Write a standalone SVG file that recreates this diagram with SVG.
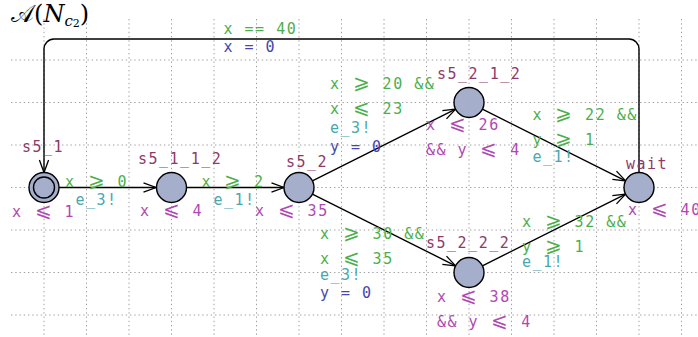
<svg xmlns="http://www.w3.org/2000/svg" width="698" height="337" viewBox="0 0 698 337">
<style>
.grid{fill:none;stroke:#a0a0a0;stroke-width:1;stroke-dasharray:1.4 2.85}
.edge{fill:none;stroke:#000;stroke-width:1.4}
.node{fill:#a5aecb;stroke:#000;stroke-width:1.4}
.t{font-family:"DejaVu Sans Mono","Liberation Mono",monospace;font-size:15px;letter-spacing:1.5px}
.r{font-size:20px;text-anchor:middle;letter-spacing:0}
.g{fill:#4caf4c}
.s{fill:#48a8b0}
.u{fill:#4646b0}
.i{fill:#b048b4}
.n{fill:#8e3a68}
</style>
<defs>
<marker id="arr" markerUnits="userSpaceOnUse" markerWidth="16" markerHeight="12" viewBox="-14 -6 16 12" refX="0" refY="0" orient="auto">
<path d="M-12.5,-4.6 L0,0 L-12.5,4.6" fill="none" stroke="#000" stroke-width="1.3"/>
</marker>
</defs>
<rect width="698" height="337" fill="#fff"/>
<g id="grid">
<path class="grid" d="M44,19V337M86.5,19V337M129,19V337M171.5,19V337M214,19V337M256.5,19V337M299,19V337M341.5,19V337M384,19V337M426.5,19V337M469,19V337M511.5,19V337M554,19V337M596.5,19V337M639,19V337M681.5,19V337"/>
<path class="grid" d="M11,60H698M11,102.5H698M11,145H698M11,187.5H698M11,230H698M11,272.5H698M11,315H698"/>
</g>
<text id="title" x="11" y="22" font-family="'DejaVu Serif','Liberation Serif',serif" font-size="24">𝒜(<tspan font-style="italic">N</tspan><tspan font-style="italic" font-size="15" dy="3.5">c</tspan><tspan font-size="11" dy="1.5">2</tspan><tspan dy="-5">)</tspan></text>
<g id="connectors">
<line class="edge" x1="59" y1="187.5" x2="156" y2="187.5" marker-end="url(#arr)"/>
<line class="edge" x1="186.5" y1="187.5" x2="284" y2="187.5" marker-end="url(#arr)"/>
<line class="edge" x1="312.4" y1="180.8" x2="455.6" y2="109.2" marker-end="url(#arr)"/>
<line class="edge" x1="312.4" y1="194.2" x2="455.6" y2="265.8" marker-end="url(#arr)"/>
<line class="edge" x1="482.4" y1="109.2" x2="625.6" y2="180.8" marker-end="url(#arr)"/>
<line class="edge" x1="482.4" y1="265.8" x2="625.6" y2="194.2" marker-end="url(#arr)"/>
<path class="edge" d="M639,172.5V49A10,10 0 0 0 629,39H54A10,10 0 0 0 44,49V172.5" marker-end="url(#arr)"/>
<text class="t g" x="65" y="187">x <tspan class="r" x="96.3">⩾</tspan><tspan x="107.1"> 0</tspan></text>
<text class="t s" x="75.5" y="205">e_3!</text>
<text class="t g" x="201.5" y="187">x <tspan class="r" x="232.8">⩾</tspan><tspan x="243.6"> 2</tspan></text>
<text class="t s" x="213.5" y="205">e_1!</text>
<text class="t g" x="330" y="89">x <tspan class="r" x="361.3">⩾</tspan><tspan x="372.1"> 20 &amp;&amp;</tspan></text>
<text class="t g" x="330" y="114">x <tspan class="r" x="361.3">⩽</tspan><tspan x="372.1"> 23</tspan></text>
<text class="t s" x="330" y="133">e_3!</text>
<text class="t u" x="330" y="152">y = 0</text>
<text class="t g" x="320" y="238.5">x <tspan class="r" x="351.3">⩾</tspan><tspan x="362.1"> 30 &amp;&amp;</tspan></text>
<text class="t g" x="320" y="264">x <tspan class="r" x="351.3">⩽</tspan><tspan x="362.1"> 35</tspan></text>
<text class="t s" x="320" y="280">e_3!</text>
<text class="t u" x="320" y="297.5">y = 0</text>
<text class="t g" x="532.5" y="120">x <tspan class="r" x="563.8">⩾</tspan><tspan x="574.6"> 22 &amp;&amp;</tspan></text>
<text class="t g" x="532.5" y="145">y <tspan class="r" x="563.8">⩾</tspan><tspan x="574.6"> 1</tspan></text>
<text class="t s" x="532.5" y="161.5">e_1!</text>
<text class="t g" x="522" y="226.5">x <tspan class="r" x="553.3">⩾</tspan><tspan x="564.1"> 32 &amp;&amp;</tspan></text>
<text class="t g" x="522" y="252">y <tspan class="r" x="553.3">⩾</tspan><tspan x="564.1"> 1</tspan></text>
<text class="t s" x="522" y="266.5">e_1!</text>
<text class="t g" x="223.5" y="34">x == 40</text>
<text class="t u" x="223.5" y="52">x = 0</text>
</g>
<g id="s5_1">
<circle class="node" cx="44" cy="187.5" r="15"/>
<circle class="node" cx="44" cy="187.5" r="10.5"/>
<text class="t n" x="22" y="152">s5_1</text>
<text class="t i" x="12" y="217">x <tspan class="r" x="43.3">⩽</tspan><tspan x="54.1"> 1</tspan></text>
</g>
<g id="s5_1_1_2">
<circle class="node" cx="171.5" cy="187.5" r="15"/>
<text class="t n" x="138" y="164">s5_1_1_2</text>
<text class="t i" x="140" y="216">x <tspan class="r" x="171.3">⩽</tspan><tspan x="182.1"> 4</tspan></text>
</g>
<g id="s5_2">
<circle class="node" cx="299" cy="187.5" r="15"/>
<text class="t n" x="286" y="167">s5_2</text>
<text class="t i" x="255" y="216">x <tspan class="r" x="286.3">⩽</tspan><tspan x="297.1"> 35</tspan></text>
</g>
<g id="s5_2_1_2">
<circle class="node" cx="469" cy="102.5" r="15"/>
<text class="t n" x="437" y="79">s5_2_1_2</text>
<text class="t i" x="426" y="130">x <tspan class="r" x="457.3">⩽</tspan><tspan x="468.1"> 26</tspan></text>
<text class="t i" x="426" y="155">&amp;&amp; y <tspan class="r" x="488.9">⩽</tspan><tspan x="499.7"> 4</tspan></text>
</g>
<g id="s5_2_2_2">
<circle class="node" cx="469" cy="272.5" r="15"/>
<text class="t n" x="426" y="248">s5_2_2_2</text>
<text class="t i" x="437" y="302">x <tspan class="r" x="468.3">⩽</tspan><tspan x="479.1"> 38</tspan></text>
<text class="t i" x="437" y="326.5">&amp;&amp; y <tspan class="r" x="499.9">⩽</tspan><tspan x="510.7"> 4</tspan></text>
</g>
<g id="wait">
<circle class="node" cx="639" cy="187.5" r="15"/>
<text class="t n" x="626" y="169">wait</text>
<text class="t i" x="628" y="215">x <tspan class="r" x="659.3">⩽</tspan><tspan x="670.1"> 40</tspan></text>
</g>
</svg>
